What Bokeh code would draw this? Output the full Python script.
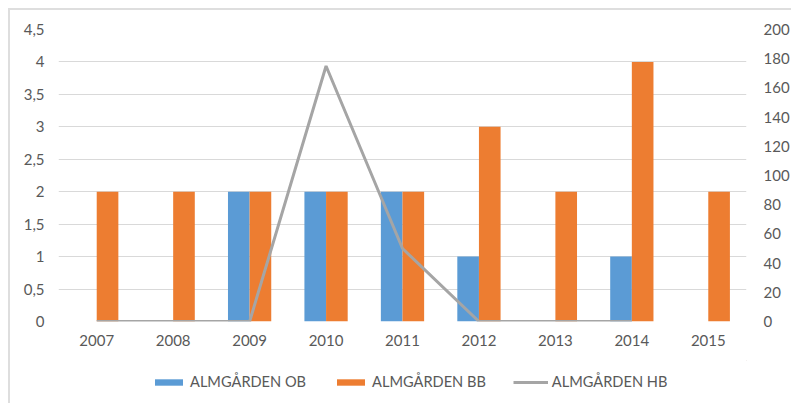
from bokeh.plotting import figure
from bokeh.layouts import column
from bokeh.models import (LinearAxis, Range1d, FactorRange, Legend, LegendItem,
                          ColumnDataSource)
from bokeh.transform import dodge
from bokeh.embed import file_html
from bokeh.resources import INLINE
import numpy as np

years = ["2007", "2008", "2009", "2010", "2011", "2012", "2013", "2014", "2015"]
ob_values = [0, 0, 2, 2, 2, 1, 0, 1, 0]
bb_values = [2, 2, 2, 2, 2, 3, 2, 4, 2]
hb_values = [0, 0, 0, 175, 50, 0, 0, 0, np.nan]
left_ticks = [0, 0.5, 1, 1.5, 2, 2.5, 3, 3.5, 4, 4.5]
right_ticks = [0, 20, 40, 60, 80, 100, 120, 140, 160, 180, 200]
series_names = ["ALMGÅRDEN OB", "ALMGÅRDEN BB", "ALMGÅRDEN HB"]

BLUE = "#5b9bd5"
ORANGE = "#ed7d31"
GRAY = "#a5a5a5"
TEXT = "#595959"
FONT = "Lato"

src = ColumnDataSource(data=dict(year=years, ob=ob_values, bb=bb_values, hb=hb_values))

p = figure(width=782, height=350,
           x_range=FactorRange(*years), y_range=Range1d(0, 4.5),
           output_backend="svg", toolbar_location=None,
           min_border_left=48, min_border_right=44, min_border_top=19, min_border_bottom=39)
p.outline_line_color = None
p.background_fill_color = "white"
p.border_fill_color = "white"

p.extra_y_ranges = {"hb": Range1d(0, 200)}

bw = 0.283
p.vbar(x=dodge("year", -bw / 2, range=p.x_range), top="ob", width=bw, source=src,
       fill_color=BLUE, line_color=None)
p.vbar(x=dodge("year", bw / 2, range=p.x_range), top="bb", width=bw, source=src,
       fill_color=ORANGE, line_color=None)
p.line(x="year", y="hb", source=src, y_range_name="hb", line_color=GRAY, line_width=3)


def style_axis(ax, standoff):
    ax.axis_line_color = None
    ax.major_tick_line_color = None
    ax.minor_tick_line_color = None
    ax.major_tick_out = 0
    ax.major_tick_in = 0
    ax.minor_tick_out = 0
    ax.minor_tick_in = 0
    ax.major_label_standoff = standoff
    ax.major_label_text_color = TEXT
    ax.major_label_text_font = FONT
    ax.major_label_text_font_size = "15px"


style_axis(p.xaxis[0], 13)
style_axis(p.yaxis[0], 14)
p.yaxis[0].ticker = left_ticks
p.yaxis[0].major_label_overrides = {t: (str(t).replace(".", ",") if t % 1 else str(int(t))) for t in left_ticks}

right = LinearAxis(y_range_name="hb", ticker=right_ticks)
style_axis(right, 17)
p.add_layout(right, "right")

p.xgrid.grid_line_color = None
p.ygrid.grid_line_color = "#d9d9d9"
p.ygrid.grid_line_width = 1.2
p.ygrid.ticker = left_ticks

# legend strip underneath the chart; its key glyphs sit outside the strip's visible range
lg = figure(width=782, height=43, x_range=Range1d(0, 1), y_range=Range1d(0, 1),
            output_backend="svg", toolbar_location=None,
            min_border_left=0, min_border_right=0, min_border_top=0, min_border_bottom=0)
lg.axis.visible = False
lg.grid.visible = False
lg.outline_line_color = None
k_ob = lg.vbar(x=[5], top=[5], bottom=[4], width=0.1, fill_color=BLUE, line_color=None)
k_bb = lg.vbar(x=[5], top=[5], bottom=[4], width=0.1, fill_color=ORANGE, line_color=None)
k_hb = lg.line(x=[5, 6], y=[5, 5], line_color=GRAY, line_width=3)

legend = Legend(items=[LegendItem(label=series_names[0], renderers=[k_ob], index=0),
                       LegendItem(label=series_names[1], renderers=[k_bb], index=0),
                       LegendItem(label=series_names[2], renderers=[k_hb])],
                orientation="horizontal", location=(93, 13),
                glyph_width=35, glyph_height=8, label_standoff=4, spacing=27,
                padding=0, margin=0, border_line_color=None, background_fill_alpha=0,
                label_text_font=FONT, label_text_font_size="14.6px", label_text_color=TEXT)
lg.add_layout(legend, "center")

page = column(p, lg, spacing=0, margin=(8, 0, 0, 8),
              styles={"border-top": "2px solid #dedede", "border-left": "2px solid #dedede"})

open("out.html", "w").write(file_html(page, INLINE))
